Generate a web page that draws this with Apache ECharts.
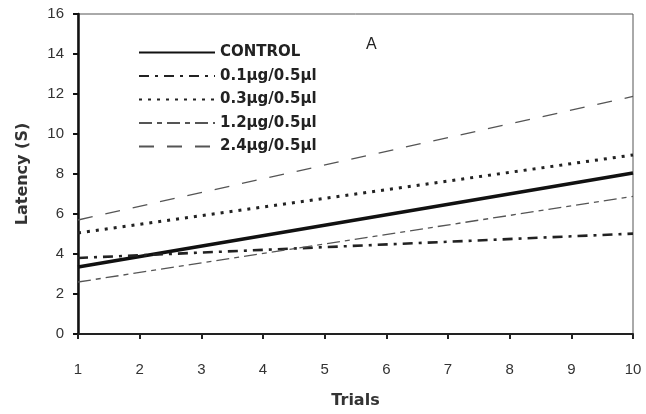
<!DOCTYPE html>
<html>
<head>
<meta charset="utf-8">
<script src="https://cdn.jsdelivr.net/npm/echarts@6/dist/echarts.min.js"></script>
<style>html,body{margin:0;padding:0;background:#fff}#c{width:646px;height:414px}</style>
</head>
<body>
<div id="c"></div>
<script>
const trials = [1, 10];
const seriesNames = ['CONTROL', '0.1µg/0.5µl', '0.3µg/0.5µl', '1.2µg/0.5µl', '2.4µg/0.5µl'];
const control = [3.35, 8.05];
const dose01 = [3.8, 5.02];
const dose03 = [5.05, 8.95];
const dose12 = [2.6, 6.88];
const dose24 = [5.7, 11.88];
const xTicks = [1, 2, 3, 4, 5, 6, 7, 8, 9, 10];
const yTicks = [0, 2, 4, 6, 8, 10, 12, 14, 16];

const pair = v => trials.map((t, i) => [t, v[i]]);
const font = '"Liberation Sans", Arial, sans-serif';
const boldFont = '"DejaVu Sans", sans-serif';
const styles = [
  {color: '#111', width: 3.4, type: 'solid'},
  {color: '#222', width: 2.6, type: [10, 6, 3, 6]},
  {color: '#222', width: 3, type: [3, 6]},
  {color: '#555', width: 1.3, type: [13, 5, 5, 5]},
  {color: '#555', width: 1.3, type: [15, 13]}
];
const values = [control, dose01, dose03, dose12, dose24];

const chart = echarts.init(document.getElementById('c'));
chart.setOption({
  animation: false,
  backgroundColor: '#fff',
  textStyle: {fontFamily: font},
  title: {text: 'A', left: 361, top: 32, textStyle: {fontSize: 16, fontWeight: 'normal', color: '#222', fontFamily: font}},
  legend: {
    orient: 'vertical', left: 133, top: 40, itemWidth: 76, itemHeight: 14, itemGap: 8.5,
    data: seriesNames,
    itemStyle: {opacity: 0},
    textStyle: {fontSize: 15, fontWeight: 'bold', color: '#222', fontFamily: boldFont}
  },
  grid: {left: 78, right: 13, top: 14, bottom: 76, show: true, borderColor: '#555', borderWidth: 1},
  xAxis: {
    type: 'value', min: xTicks[0], max: xTicks[xTicks.length - 1], interval: 1,
    name: 'Trials', nameLocation: 'middle', nameGap: 67,
    nameTextStyle: {fontSize: 16, fontWeight: 'bold', color: '#333', fontFamily: boldFont, verticalAlign: 'middle'},
    axisLine: {lineStyle: {color: '#222', width: 2}},
    axisTick: {show: true, length: 5, lineStyle: {color: '#222', width: 2}},
    axisLabel: {fontSize: 15, color: '#333', margin: 28, fontFamily: font},
    splitLine: {show: false}
  },
  yAxis: {
    type: 'value', min: yTicks[0], max: yTicks[yTicks.length - 1], interval: 2,
    name: 'Latency (S)', nameLocation: 'middle', nameGap: 55, nameRotate: 90,
    nameTextStyle: {fontSize: 16, fontWeight: 'bold', color: '#333', fontFamily: boldFont, verticalAlign: 'middle'},
    axisLine: {show: true, lineStyle: {color: '#111', width: 2.5}},
    axisTick: {show: true, length: 5, lineStyle: {color: '#111', width: 2}},
    axisLabel: {fontSize: 15, color: '#333', margin: 14, fontFamily: font},
    splitLine: {show: false}
  },
  series: seriesNames.map((n, i) => ({
    name: n, type: 'line', data: pair(values[i]), symbol: 'none',
    lineStyle: styles[i], itemStyle: {color: styles[i].color}
  }))
});
</script>
</body>
</html>
